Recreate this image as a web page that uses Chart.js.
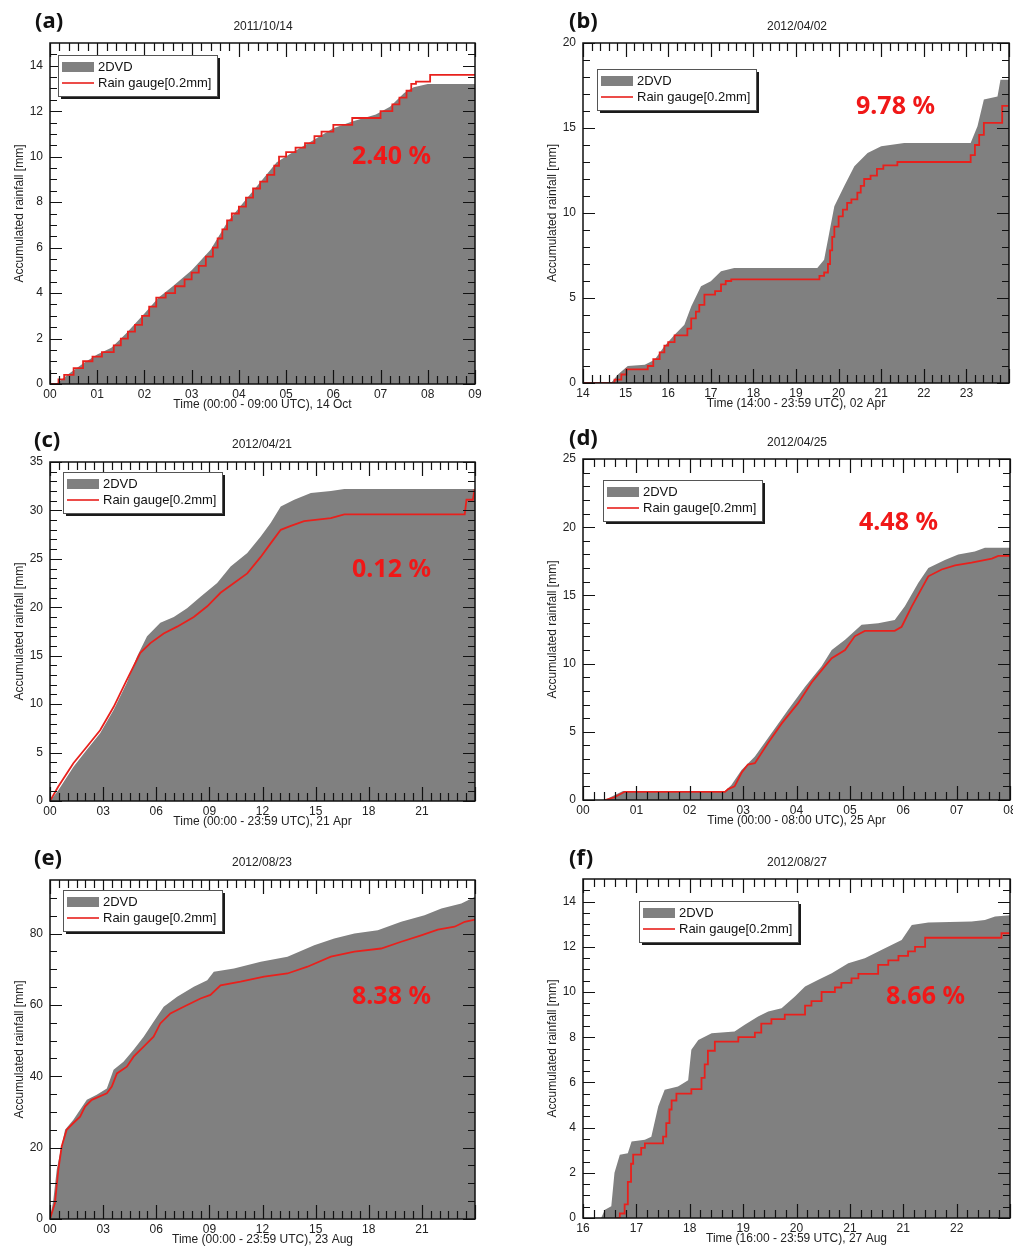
<!DOCTYPE html>
<html>
<head>
<meta charset="utf-8">
<script src="https://cdn.jsdelivr.net/npm/chart.js@4.4.1/dist/chart.umd.min.js"></script>
<style>
  body { margin: 0; background: #fff; }
  #page { position: relative; width: 1013px; height: 1248px; overflow: hidden; background: #fff; }
  canvas { position: absolute; }
  .tag { position: absolute; font-family: "Noto Sans", sans-serif; font-weight: 700; font-size: 22px; line-height: 1; color: #111; }
  .date { position: absolute; font-family: "Liberation Sans", Arial, sans-serif; font-size: 12px; line-height: 14px; color: #222; transform: translateX(-50%); white-space: nowrap; }
  .pct { position: absolute; font-family: "Noto Sans", sans-serif; font-weight: 700; font-size: 25px; line-height: 1; color: #f01818; white-space: nowrap; }
</style>
</head>
<body>
<div id="page"></div>
<script>
const FONT = '"Liberation Sans", Arial, sans-serif';

// ---- (a) 2011/10/14 ----
const aDvdTime = [0, 0.15, 0.4, 0.7, 1.0, 1.3, 1.6, 2.0, 2.3, 2.6, 3.0, 3.4, 3.75, 4.1, 4.5, 4.8, 5.15, 5.6, 6.0, 6.4, 6.9, 7.2, 7.5, 7.7, 8.0, 9.0];
const aDvd = [0, 0.03, 0.45, 0.9, 1.3, 1.6, 2.2, 3.1, 3.8, 4.3, 5.0, 5.9, 7.1, 8.0, 9.0, 9.75, 10.2, 10.75, 11.25, 11.55, 11.85, 12.2, 12.8, 13.05, 13.2, 13.2];
const aGaugeTime = [0, 0.18, 0.3, 0.5, 0.7, 0.9, 1.1, 1.35, 1.5, 1.65, 1.8, 1.95, 2.1, 2.25, 2.45, 2.65, 2.85, 3.0, 3.15, 3.3, 3.45, 3.55, 3.65, 3.75, 3.85, 4.0, 4.15, 4.3, 4.45, 4.6, 4.75, 4.85, 5.0, 5.2, 5.4, 5.6, 5.75, 6.0, 6.4, 7.0, 7.25, 7.4, 7.55, 7.65, 7.75, 8.05, 9.0];
const aGauge = [0, 0.2, 0.4, 0.7, 1.0, 1.2, 1.4, 1.7, 2.0, 2.3, 2.6, 3.0, 3.4, 3.8, 4.0, 4.3, 4.6, 4.9, 5.2, 5.6, 6.0, 6.4, 6.8, 7.2, 7.5, 7.8, 8.2, 8.6, 8.9, 9.2, 9.6, 10.0, 10.2, 10.4, 10.6, 10.9, 11.1, 11.4, 11.7, 12.0, 12.3, 12.6, 12.9, 13.2, 13.3, 13.6, 13.6];
const aTicks = ['00', '01', '02', '03', '04', '05', '06', '07', '08', '09'];

// ---- (b) 2012/04/02 ----
const bDvdTime = [14, 14.66, 14.82, 15.05, 15.45, 15.68, 15.91, 16.15, 16.38, 16.54, 16.77, 17.0, 17.24, 17.55, 19.5, 19.66, 19.78, 19.9, 20.13, 20.37, 20.68, 21.0, 21.54, 23.1, 23.26, 23.41, 23.73, 23.8, 24];
const bDvd = [0, 0, 0.5, 1.0, 1.08, 1.37, 2.16, 2.84, 3.43, 4.5, 5.69, 5.98, 6.57, 6.76, 6.76, 7.25, 8.82, 10.4, 11.57, 12.75, 13.53, 13.92, 14.12, 14.12, 15.1, 16.67, 16.86, 17.84, 17.84];
const bGaugeTime = [14, 14.74, 14.9, 15.02, 15.52, 15.65, 15.8, 15.91, 16.0, 16.15, 16.45, 16.54, 16.65, 16.73, 16.85, 17.1, 17.24, 17.35, 17.48, 19.55, 19.66, 19.75, 19.8, 19.85, 19.9, 20.0, 20.1, 20.2, 20.3, 20.44, 20.52, 20.6, 20.75, 20.9, 21.05, 21.38, 23.1, 23.2, 23.3, 23.41, 23.84, 23.98];
const bGauge = [0, 0.2, 0.5, 0.8, 1.0, 1.4, 1.8, 2.2, 2.4, 2.8, 3.2, 3.8, 4.2, 4.6, 5.2, 5.4, 5.8, 6.0, 6.1, 6.3, 6.5, 7.0, 7.8, 8.6, 9.2, 9.8, 10.2, 10.6, 10.8, 11.2, 11.6, 12.0, 12.2, 12.6, 12.8, 13.0, 13.4, 14.0, 14.6, 15.3, 16.3, 16.3];
const bTicks = ['14', '15', '16', '17', '18', '19', '20', '21', '22', '23'];

// ---- (c) 2012/04/21 ----
const cDvdTime = [0, 0.47, 1.32, 2.08, 2.83, 3.59, 4.34, 4.91, 5.48, 6.23, 6.99, 7.74, 8.5, 9.44, 10.2, 11.14, 11.9, 12.46, 13.03, 13.79, 14.73, 15.86, 16.62, 24];
const cDvd = [0, 1.1, 3.5, 5.3, 7.0, 9.4, 12.2, 14.9, 17.0, 18.4, 19.0, 19.9, 21.1, 22.5, 24.2, 25.6, 27.3, 28.7, 30.4, 31.1, 31.8, 32.0, 32.2, 32.2];
const cGaugeTime = [0, 0.47, 1.32, 2.08, 2.83, 3.59, 4.34, 5.1, 5.67, 6.42, 7.18, 8.12, 8.88, 9.63, 10.39, 11.14, 11.9, 12.46, 13.03, 13.6, 14.35, 15.86, 16.62, 23.42, 23.52, 23.88, 23.97, 24];
const cGauge = [0, 1.5, 3.9, 5.6, 7.3, 9.7, 12.5, 15.3, 16.3, 17.3, 18.0, 19.0, 20.1, 21.5, 22.5, 23.5, 25.2, 26.6, 28.0, 28.4, 28.9, 29.2, 29.6, 29.6, 31.1, 31.1, 32.1, 32.1];
const cTicks = ['00', '03', '06', '09', '12', '15', '18', '21'];

// ---- (d) 2012/04/25 ----
const dDvdTime = [0, 0.41, 0.53, 0.75, 2.66, 2.78, 2.97, 3.22, 3.53, 3.84, 4.16, 4.47, 4.66, 4.91, 5.22, 5.53, 5.84, 6.03, 6.28, 6.47, 6.78, 7.03, 7.34, 7.53, 8];
const dDvd = [0, 0, 0.24, 0.66, 0.66, 1.1, 2.2, 3.18, 4.89, 6.6, 8.3, 9.8, 11.0, 11.74, 12.84, 12.96, 13.2, 14.2, 15.9, 17.0, 17.6, 18.0, 18.22, 18.5, 18.5];
const dGaugeTime = [0.41, 0.59, 0.78, 2.66, 2.72, 2.84, 2.97, 3.09, 3.22, 3.47, 3.72, 4.03, 4.28, 4.53, 4.66, 4.91, 5.09, 5.28, 5.84, 5.97, 6.16, 6.47, 6.72, 6.97, 7.28, 7.66, 7.78, 8];
const dGauge = [0, 0.2, 0.6, 0.6, 0.8, 1.0, 2.0, 2.6, 2.7, 4.2, 5.6, 7.1, 8.6, 9.8, 10.4, 11.0, 12.0, 12.4, 12.4, 12.7, 14.2, 16.4, 16.9, 17.2, 17.4, 17.7, 17.9, 17.9];
const dTicks = ['00', '01', '02', '03', '04', '05', '06', '07', '08'];

// ---- (e) 2012/08/23 ----
const eDvdTime = [0, 0.19, 0.38, 0.57, 0.85, 1.32, 1.7, 2.08, 2.64, 3.21, 3.59, 4.15, 4.72, 5.29, 5.85, 6.42, 7.18, 8.12, 8.88, 9.25, 10.39, 11.9, 13.41, 14.92, 16.05, 17.19, 18.51, 19.83, 21.15, 22.1, 23.23, 24];
const eDvd = [0, 5.4, 13.8, 18.5, 25.0, 27.8, 30.6, 33.4, 34.8, 36.6, 41.8, 44.1, 47.4, 51.1, 55.3, 59.5, 62.3, 65.1, 66.9, 69.3, 70.2, 72.1, 73.5, 76.7, 78.6, 80.0, 80.9, 83.3, 85.1, 87.0, 88.4, 90.3];
const eGaugeTime = [0, 0.28, 0.47, 0.66, 0.94, 1.32, 1.7, 1.98, 2.36, 3.21, 3.49, 3.78, 4.34, 4.72, 5.29, 5.85, 6.23, 6.8, 7.55, 8.5, 9.06, 9.63, 10.76, 12.09, 13.41, 14.54, 15.86, 17.19, 18.7, 19.83, 20.96, 21.9, 22.85, 23.42, 24];
const eGauge = [0, 4.5, 13.8, 20.3, 25.0, 26.9, 28.7, 31.5, 33.4, 35.2, 37.1, 40.8, 42.7, 45.5, 48.3, 51.1, 54.8, 57.6, 59.5, 61.8, 62.8, 65.5, 66.5, 67.9, 68.8, 70.7, 73.5, 74.9, 75.8, 77.7, 79.5, 81.1, 81.9, 83.3, 83.9];
const eTicks = ['00', '03', '06', '09', '12', '15', '18', '21'];

// ---- (f) 2012/08/27 ----
const fDvdTime = [16, 16.34, 16.41, 16.53, 16.59, 16.69, 16.84, 16.91, 17.16, 17.28, 17.41, 17.53, 17.78, 17.97, 18.03, 18.16, 18.41, 18.84, 19.03, 19.28, 19.47, 19.72, 19.97, 20.16, 20.41, 20.66, 20.97, 21.28, 21.59, 21.97, 22.16, 22.47, 23.28, 23.53, 23.72, 24];
const fDvd = [0, 0, 0.37, 0.52, 2.0, 2.8, 2.87, 3.39, 3.46, 3.6, 4.94, 5.67, 5.82, 6.1, 7.44, 7.88, 8.18, 8.25, 8.55, 8.92, 9.14, 9.28, 9.8, 10.24, 10.54, 10.83, 11.27, 11.49, 11.86, 12.3, 12.97, 13.07, 13.12, 13.19, 13.34, 13.4];
const fGaugeTime = [16.6, 16.69, 16.78, 16.84, 16.9, 16.94, 17.09, 17.16, 17.5, 17.56, 17.62, 17.66, 17.75, 18.03, 18.22, 18.28, 18.34, 18.47, 18.91, 19.22, 19.34, 19.53, 19.78, 20.16, 20.28, 20.47, 20.72, 20.84, 21.03, 21.16, 21.53, 21.72, 21.91, 22.09, 22.22, 22.41, 23.84, 24];
const fGauge = [0, 0.2, 0.6, 1.6, 2.4, 2.8, 3.1, 3.3, 3.6, 4.2, 4.8, 5.2, 5.5, 5.7, 6.2, 6.8, 7.4, 7.8, 8.0, 8.2, 8.6, 8.8, 9.0, 9.4, 9.6, 10.0, 10.2, 10.4, 10.6, 10.8, 11.2, 11.4, 11.6, 11.8, 12.0, 12.4, 12.6, 12.6];
const fTicks = ['16', '17', '18', '19', '20', '21', '21', '22'];

const seriesLabels = ['2DVD', 'Rain gauge[0.2mm]'];
const yTitle = 'Accumulated rainfall [mm]';

// panel layout: canvas box [left, top, w, h], plot area inside canvas [l, t, r, b]
const panels = [
  { tag: '(a)', date: '2011/10/14', pct: '2.40 %', xTitle: 'Time (00:00 - 09:00 UTC), 14 Oct',
    box: [0, 0, 506, 420], area: [50, 43, 475, 384], tagAt: [35, 8], dateAt: [263, 19], pctAt: [352, 142], legendAt: [8, 12],
    xMin: 0, xMax: 9, xStep: 1, xMinor: 5, xLabels: aTicks, yMax: 15, yStep: 2, yMinor: 4,
    dvdT: aDvdTime, dvd: aDvd, gT: aGaugeTime, g: aGauge, stepped: true },
  { tag: '(b)', date: '2012/04/02', pct: '9.78 %', xTitle: 'Time (14:00 - 23:59 UTC), 02 Apr',
    box: [505, 0, 508, 420], area: [78, 43, 504, 383], tagAt: [569, 8], dateAt: [797, 19], pctAt: [856, 92], legendAt: [14, 26],
    xMin: 14, xMax: 24, xStep: 1, xMinor: 5, xLabels: bTicks, yMax: 20, yStep: 5, yMinor: 5,
    dvdT: bDvdTime, dvd: bDvd, gT: bGaugeTime, g: bGauge, stepped: true },
  { tag: '(c)', date: '2012/04/21', pct: '0.12 %', xTitle: 'Time (00:00 - 23:59 UTC), 21 Apr',
    box: [0, 420, 506, 420], area: [50, 42, 475, 381], tagAt: [34, 427], dateAt: [262, 437], pctAt: [352, 555], legendAt: [13, 10],
    xMin: 0, xMax: 24, xStep: 3, xMinor: 6, xLabels: cTicks, yMax: 35, yStep: 5, yMinor: 5,
    dvdT: cDvdTime, dvd: cDvd, gT: cGaugeTime, g: cGauge, stepped: false },
  { tag: '(d)', date: '2012/04/25', pct: '4.48 %', xTitle: 'Time (00:00 - 08:00 UTC), 25 Apr',
    box: [505, 420, 508, 420], area: [78, 39, 505, 380], tagAt: [569, 425], dateAt: [797, 435], pctAt: [859, 508], legendAt: [20, 21],
    xMin: 0, xMax: 8, xStep: 1, xMinor: 5, xLabels: dTicks, yMax: 25, yStep: 5, yMinor: 5,
    dvdT: dDvdTime, dvd: dDvd, gT: dGaugeTime, g: dGauge, stepped: false },
  { tag: '(e)', date: '2012/08/23', pct: '8.38 %', xTitle: 'Time (00:00 - 23:59 UTC), 23 Aug',
    box: [0, 840, 506, 408], area: [50, 40, 475, 379], tagAt: [34, 845], dateAt: [262, 855], pctAt: [352, 982], legendAt: [13, 10],
    xMin: 0, xMax: 24, xStep: 3, xMinor: 6, xLabels: eTicks, yMax: 95, yStep: 20, yMinor: 4,
    dvdT: eDvdTime, dvd: eDvd, gT: eGaugeTime, g: eGauge, stepped: false },
  { tag: '(f)', date: '2012/08/27', pct: '8.66 %', xTitle: 'Time (16:00 - 23:59 UTC), 27 Aug',
    box: [505, 840, 508, 408], area: [78, 39, 505, 378], tagAt: [569, 845], dateAt: [797, 855], pctAt: [886, 982], legendAt: [56, 22],
    xMin: 16, xMax: 24, xStep: 1, xMinor: 5, xLabels: fTicks, yMax: 15, yStep: 2, yMinor: 4,
    dvdT: fDvdTime, dvd: fDvd, gT: fGaugeTime, g: fGauge, stepped: true }
];

const Y_AXIS_W = 40, X_AXIS_H = 28;

function toPoints(times, values) {
  return times.map((t, i) => ({ x: t, y: values[i] }));
}

// IDL-style inward ticks on all four sides plus the black frame
const frameTicks = {
  id: 'frameTicks',
  afterDatasetsDraw(chart, args, o) {
    const { ctx, chartArea: a, scales: { x, y } } = chart;
    ctx.save();
    ctx.strokeStyle = '#111';
    ctx.lineWidth = 1.2;
    ctx.beginPath();
    const xt = (v, len) => {
      const p = Math.round(x.getPixelForValue(v)) + 0.5;
      ctx.moveTo(p, a.bottom); ctx.lineTo(p, a.bottom - len);
      ctx.moveTo(p, a.top); ctx.lineTo(p, a.top + len);
    };
    const yt = (v, len) => {
      const p = Math.round(y.getPixelForValue(v)) + 0.5;
      ctx.moveTo(a.left, p); ctx.lineTo(a.left + len, p);
      ctx.moveTo(a.right, p); ctx.lineTo(a.right - len, p);
    };
    for (let i = 0; ; i++) {
      const v = o.xMin + i * o.xStep;
      if (v > o.xMax + 1e-9) break;
      xt(v, 14);
      for (let k = 1; k < o.xMinor; k++) {
        const m = v + k * o.xStep / o.xMinor;
        if (m < o.xMax - 1e-9) xt(m, 8);
      }
    }
    for (let i = 0; ; i++) {
      const v = i * o.yStep;
      if (v > o.yMax + 1e-9) break;
      yt(v, 12);
      for (let k = 1; k < o.yMinor; k++) {
        const m = v + k * o.yStep / o.yMinor;
        if (m < o.yMax - 1e-9) yt(m, 7);
      }
    }
    ctx.stroke();
    ctx.lineWidth = 1.5;
    ctx.strokeRect(a.left, a.top, a.right - a.left, a.bottom - a.top);
    ctx.restore();
  }
};

// boxed legend with drop shadow inside the plot
const boxLegend = {
  id: 'boxLegend',
  afterDraw(chart, args, o) {
    const { ctx, chartArea: a } = chart;
    const ds = chart.data.datasets;
    const x = a.left + o.dx, y = a.top + o.dy;
    ctx.save();
    ctx.font = '13px ' + FONT;
    const textW = Math.max(ctx.measureText(ds[0].label).width, ctx.measureText(ds[1].label).width);
    const w = Math.round(40 + textW + 6), h = 41;
    ctx.fillStyle = '#1a1a1a';
    ctx.fillRect(x + 3, y + 3, w, h);
    ctx.fillStyle = '#fff';
    ctx.fillRect(x, y, w, h);
    ctx.strokeStyle = '#555';
    ctx.lineWidth = 1;
    ctx.strokeRect(x + 0.5, y + 0.5, w, h);
    ctx.fillStyle = ds[0].backgroundColor;
    ctx.fillRect(x + 4, y + 7, 32, 10);
    ctx.strokeStyle = ds[1].borderColor;
    ctx.lineWidth = 1.6;
    ctx.beginPath();
    ctx.moveTo(x + 4, y + 28);
    ctx.lineTo(x + 36, y + 28);
    ctx.stroke();
    ctx.fillStyle = '#111';
    ctx.textBaseline = 'middle';
    ctx.fillText(ds[0].label, x + 40, y + 12);
    ctx.fillText(ds[1].label, x + 40, y + 28);
    ctx.restore();
  }
};

const page = document.getElementById('page');

panels.forEach(p => {
  const [bx, by, bw, bh] = p.box;
  const [al, at, ar, ab] = p.area;
  const cv = document.createElement('canvas');
  cv.width = bw; cv.height = bh;
  cv.style.left = bx + 'px'; cv.style.top = by + 'px';
  cv.style.width = bw + 'px'; cv.style.height = bh + 'px';
  page.appendChild(cv);

  const xLabel = v => {
    const i = Math.round((v - p.xMin) / p.xStep);
    return (Math.abs(p.xMin + i * p.xStep - v) < 1e-6 && i < p.xLabels.length) ? p.xLabels[i] : '';
  };

  new Chart(cv.getContext('2d'), {
    type: 'line',
    data: {
      datasets: [
        {
          label: seriesLabels[0],
          data: toPoints(p.dvdT, p.dvd),
          fill: 'origin',
          backgroundColor: '#808080',
          borderColor: '#808080',
          borderWidth: 0,
          pointRadius: 0,
          tension: 0,
          order: 1
        },
        {
          label: seriesLabels[1],
          data: toPoints(p.gT, p.g),
          fill: false,
          borderColor: '#e8201c',
          borderWidth: 1.8,
          pointRadius: 0,
          tension: 0,
          stepped: p.stepped,
          order: 0
        }
      ]
    },
    options: {
      responsive: false,
      animation: false,
      events: [],
      layout: {
        padding: { left: al - Y_AXIS_W, top: at, right: bw - ar, bottom: bh - ab - X_AXIS_H }
      },
      plugins: {
        legend: { display: false },
        tooltip: { enabled: false },
        frameTicks: { xMin: p.xMin, xMax: p.xMax, xStep: p.xStep, xMinor: p.xMinor, yMax: p.yMax, yStep: p.yStep, yMinor: p.yMinor },
        boxLegend: { dx: p.legendAt[0], dy: p.legendAt[1] }
      },
      scales: {
        x: {
          type: 'linear',
          min: p.xMin,
          max: p.xMax,
          grid: { display: false, drawTicks: false, tickLength: 0 },
          border: { display: false },
          ticks: {
            stepSize: p.xStep,
            autoSkip: false,
            maxRotation: 0,
            includeBounds: false,
            padding: 3,
            color: '#222',
            font: { family: FONT, size: 12 },
            callback: xLabel
          },
          title: { display: true, text: p.xTitle, color: '#222', padding: 0, font: { family: FONT, size: 12 } },
          afterFit: s => { s.height = X_AXIS_H; s.paddingLeft = 0; s.paddingRight = 0; }
        },
        y: {
          min: 0,
          max: p.yMax,
          grid: { display: false, drawTicks: false, tickLength: 0 },
          border: { display: false },
          ticks: {
            stepSize: p.yStep,
            includeBounds: false,
            padding: 7,
            color: '#222',
            font: { family: FONT, size: 12 }
          },
          title: { display: true, text: yTitle, color: '#222', padding: { top: 2, bottom: 0 }, font: { family: FONT, size: 12 } },
          afterFit: s => { s.width = Y_AXIS_W; s.paddingTop = 0; s.paddingBottom = 0; }
        }
      }
    },
    plugins: [frameTicks, boxLegend]
  });

  const tag = document.createElement('div');
  tag.className = 'tag';
  tag.textContent = p.tag;
  tag.style.left = p.tagAt[0] + 'px'; tag.style.top = p.tagAt[1] + 'px';
  page.appendChild(tag);

  const date = document.createElement('div');
  date.className = 'date';
  date.textContent = p.date;
  date.style.left = p.dateAt[0] + 'px'; date.style.top = p.dateAt[1] + 'px';
  page.appendChild(date);

  const pct = document.createElement('div');
  pct.className = 'pct';
  pct.textContent = p.pct;
  pct.style.left = p.pctAt[0] + 'px'; pct.style.top = p.pctAt[1] + 'px';
  page.appendChild(pct);
});
</script>
</body>
</html>
